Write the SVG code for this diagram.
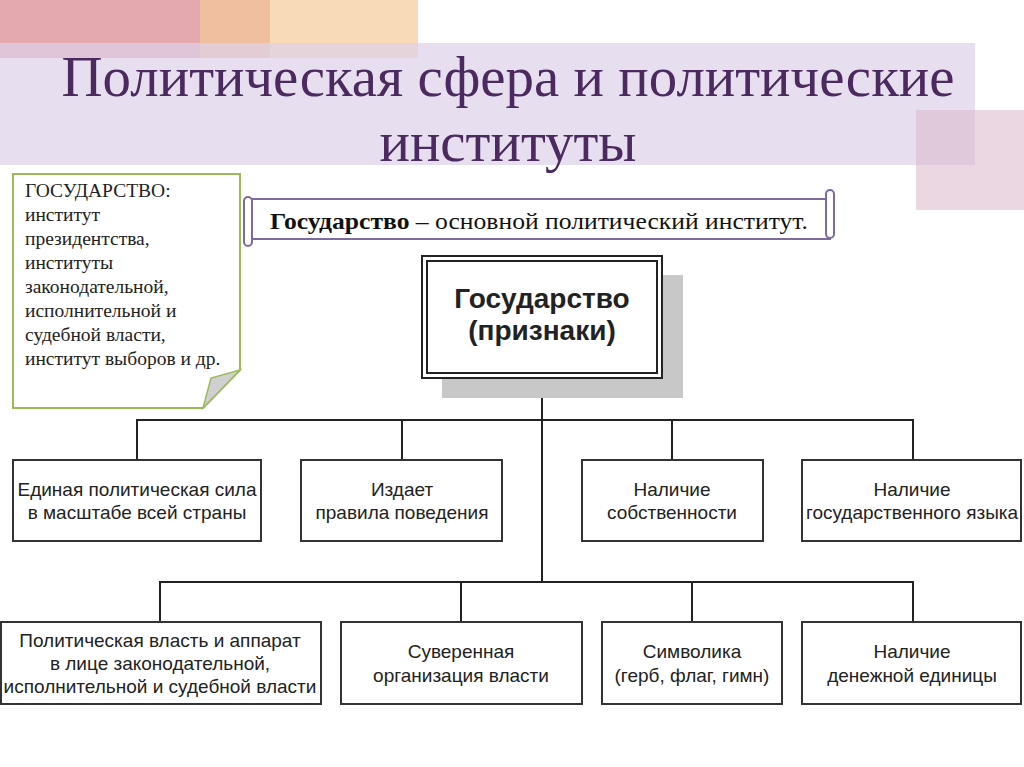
<svg xmlns="http://www.w3.org/2000/svg" width="1024" height="767" viewBox="0 0 1024 767">
<style>
.box{fill:#fff;stroke:#333;stroke-width:2}
.lbl{font-family:"Liberation Sans",Arial,sans-serif;font-size:19px;fill:#222;text-anchor:middle}
.note{font-family:"Liberation Serif","Times New Roman",serif;font-size:19.5px;fill:#222}
.ttl{font-family:"Liberation Serif","Times New Roman",serif;font-size:57px;fill:#4b2a5f;text-anchor:middle}
.conn{fill:none;stroke:#222;stroke-width:2}
</style>
<rect width="1024" height="767" fill="#fff"/>
<g id="decor">
<rect x="0" y="0" width="270" height="58" fill="#d9848c" fill-opacity="0.7"/>
<rect x="200" y="0" width="218" height="58" fill="#f5c99a" fill-opacity="0.7"/>
<rect x="0" y="43" width="975" height="122" fill="#ddd1e8" fill-opacity="0.7"/>
<rect x="916" y="110" width="108" height="100" fill="#d9b7c8" fill-opacity="0.55"/>
</g>
<g id="title">
<text class="ttl" x="508" y="96" textLength="893" lengthAdjust="spacingAndGlyphs">Политическая сфера и политические</text>
<text class="ttl" x="508" y="161" textLength="257" lengthAdjust="spacingAndGlyphs">институты</text>
</g>
<g id="note">
<path d="M13,174 H240 V370 L203,408 H13 Z" fill="#fff" stroke="#9bbb59" stroke-width="2"/>
<path d="M240,370 L203,408 L211,378 Z" fill="#d0d0d0" stroke="#9bbb59" stroke-width="1.5"/>
<text class="note" x="25" y="197">ГОСУДАРСТВО:</text>
<text class="note" x="25" y="221">институт</text>
<text class="note" x="25" y="245">президентства,</text>
<text class="note" x="25" y="269">институты</text>
<text class="note" x="25" y="293">законодательной,</text>
<text class="note" x="25" y="317">исполнительной и</text>
<text class="note" x="25" y="341">судебной власти,</text>
<text class="note" x="25" y="365">институт выборов и др.</text>
</g>
<g id="scroll">
<rect x="250" y="199" width="580" height="40" fill="#fff" stroke="#7d6b9b" stroke-width="2"/>
<rect x="244" y="197" width="8" height="49" rx="4" fill="#fff" stroke="#7d6b9b" stroke-width="2"/>
<rect x="826" y="190" width="8" height="48" rx="4" fill="#fff" stroke="#7d6b9b" stroke-width="2"/>
<text x="270" y="229" font-family="'Liberation Serif','Times New Roman',serif" font-size="24" fill="#111" textLength="538" lengthAdjust="spacingAndGlyphs"><tspan font-weight="bold">Государство</tspan> – основной политический институт.</text>
</g>
<g id="connectors">
<path class="conn" d="M542,378 V582"/>
<path class="conn" d="M137,460 V420 H913 V460 M402,420 V460 M672,420 V460"/>
<path class="conn" d="M160,622 V582 H913 V622 M461,582 V622 M692,582 V622"/>
</g>
<g id="main">
<rect x="442" y="275" width="241" height="123" fill="#c8c8c8"/>
<rect x="422" y="256" width="240" height="122" fill="#fff" stroke="#222" stroke-width="2"/>
<rect x="427" y="261" width="230" height="112" fill="none" stroke="#222" stroke-width="2"/>
<text x="542" y="308" font-family="'Liberation Sans',Arial,sans-serif" font-size="28" font-weight="bold" fill="#222" text-anchor="middle">Государство</text>
<text x="542" y="340" font-family="'Liberation Sans',Arial,sans-serif" font-size="28" font-weight="bold" fill="#222" text-anchor="middle">(признаки)</text>
</g>
<g id="n1"><rect class="box" x="13" y="460" width="248" height="81"/><text class="lbl" x="137" y="496">Единая политическая сила</text><text class="lbl" x="137" y="519">в масштабе всей страны</text></g>
<g id="n2"><rect class="box" x="301" y="460" width="201" height="81"/><text class="lbl" x="402" y="496">Издает</text><text class="lbl" x="402" y="519">правила поведения</text></g>
<g id="n3"><rect class="box" x="582" y="460" width="181" height="81"/><text class="lbl" x="672" y="496">Наличие</text><text class="lbl" x="672" y="519">собственности</text></g>
<g id="n4"><rect class="box" x="802" y="460" width="219" height="81"/><text class="lbl" x="912" y="496">Наличие</text><text class="lbl" x="912" y="519">государственного языка</text></g>
<g id="n5"><rect class="box" x="1" y="622" width="320" height="82"/><text class="lbl" x="160" y="647">Политическая власть и аппарат</text><text class="lbl" x="160" y="670">в лице законодательной,</text><text class="lbl" x="160" y="693">исполнительной и судебной власти</text></g>
<g id="n6"><rect class="box" x="341" y="622" width="241" height="82"/><text class="lbl" x="461" y="658">Суверенная</text><text class="lbl" x="461" y="682">организация власти</text></g>
<g id="n7"><rect class="box" x="602" y="622" width="180" height="82"/><text class="lbl" x="692" y="658">Символика</text><text class="lbl" x="692" y="682">(герб, флаг, гимн)</text></g>
<g id="n8"><rect class="box" x="802" y="622" width="219" height="82"/><text class="lbl" x="912" y="658">Наличие</text><text class="lbl" x="912" y="682">денежной единицы</text></g>
</svg>
